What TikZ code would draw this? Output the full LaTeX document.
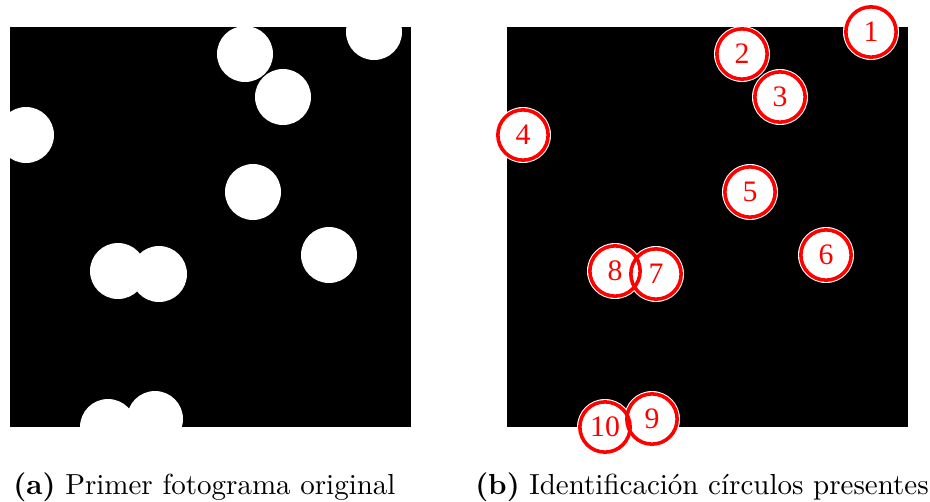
\documentclass[tikz,border=0pt]{standalone}
\usepackage{fontspec}
\newfontfamily\numfont{Liberation Serif}

\begin{document}
\begin{tikzpicture}[x=0.35pt,y=-0.35pt,
    panel/.style={fill=black},
    disc/.style={fill=white},
    ring/.style={circle,draw=red,line width=1.25pt,minimum size=17.6pt,
                 inner sep=0pt,text=red,font=\numfont\fontsize{10.4}{11}\selectfont},
    subcap/.style={anchor=base,inner sep=0pt,font=\fontsize{10.15}{12}\selectfont}]
  \useasboundingbox (0,0) rectangle (930,501);
  % (a) original frame, blobs clipped to the frame
  \begin{scope}
    \clip (10,27) rectangle (411,427);
    \fill[panel] (10,27) rectangle (411,427);
    \foreach \cx/\cy in {374/32,245/54,283/97,26/135,253/192,
                         329/255,159/274,118/271,155/419,108/427}
      \fill[disc] (\cx,\cy) circle (28);
  \end{scope}
  % (b) detected circles
  \fill[panel] (507,27) rectangle (908,427);
  \foreach \cx/\cy in {871/32,742/54,780/97,523/135,750/192,
                       826/255,656/274,615/271,652/419,605/427}
    \fill[disc] (\cx,\cy) circle (28);
  \foreach \n/\cx/\cy in {1/871/32,2/742/54,3/780/97,4/523/135,5/750/192,
                          6/826/255,7/656/274,8/615/271,9/652/419,10/605/427}
    \node[ring] (c\n) at (\cx,\cy) {\n};
  % captions
  \node[subcap] (capa) at (204.5,494) {\textbf{(a)} Primer fotograma original};
  \node[subcap] (capb) at (702,494) {\textbf{(b)} Identificación círculos presentes};
\end{tikzpicture}
\end{document}
